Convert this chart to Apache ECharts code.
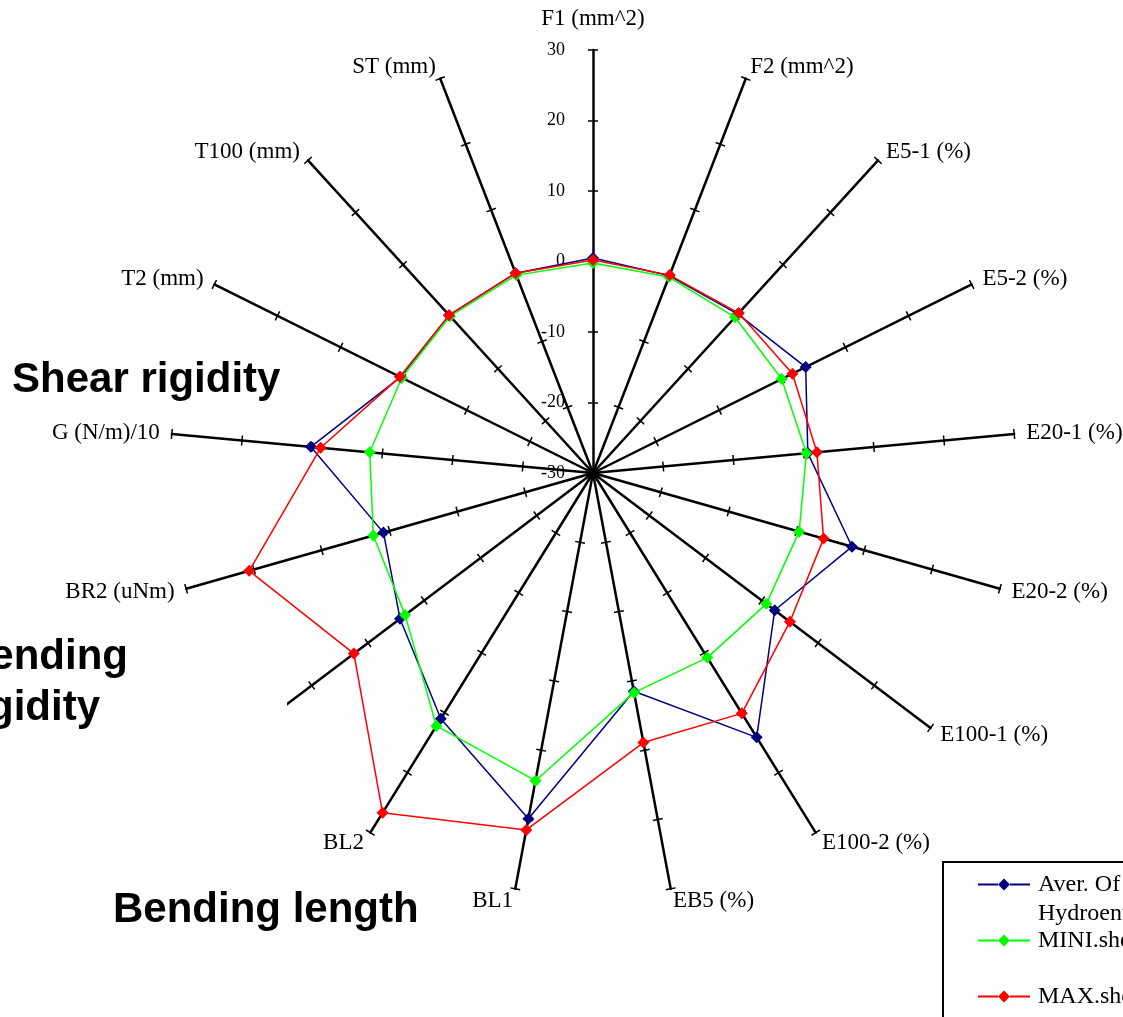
<!DOCTYPE html>
<html>
<head>
<meta charset="utf-8">
<script src="https://cdn.jsdelivr.net/npm/echarts@6/dist/echarts.min.js"></script>
<style>html,body{margin:0;padding:0;background:#fff}#c{width:1123px;height:1017px}</style>
</head>
<body>
<div id="c"></div>
<script>
// Axes listed clockwise from the top
const categories = ['F1 (mm^2)', 'F2 (mm^2)', 'E5-1 (%)', 'E5-2 (%)', 'E20-1 (%)', 'E20-2 (%)',
  'E100-1 (%)', 'E100-2 (%)', 'EB5 (%)', 'BL1', 'BL2', 'BR1 (uNm)', 'BR2 (uNm)', 'G (N/m)/10',
  'T2 (mm)', 'T100 (mm)', 'ST (mm)'];
const axisMin = -30;
const axisMax = 30;
const seriesNames = ['Aver. Of all', 'Hydroentangled\nMINI.sheet\n\u00a0', 'MAX.sheet'];
const averValues = [0.5, 0.0, 0.5, 3.7, 0.6, 8.2, 2.3, 14.1, 1.5, 19.9, 11.0, 4.3, 0.9, 10.2, 0.5, 0.3, 0.4];
const miniValues = [-0.2, -0.2, -0.1, -0.1, 0.4, 0.4, 0.8, 0.8, 1.7, 14.4, 12.2, 3.4, 2.4, 1.8, 0.3, 0.1, 0.1];
const maxValues = [0.2, 0.1, 0.7, 1.6, 1.9, 4.0, 5.0, 10.1, 8.9, 21.5, 26.7, 12.5, 20.7, 8.8, 0.6, 0.3, 0.4];
const seriesColors = ['#000080', '#00ff00', '#ff0000'];

// ECharts radar goes counter-clockwise: reorder so the picture reads clockwise
const order = [0];
for (let i = categories.length - 1; i >= 1; i--) order.push(i);
const reorder = arr => order.map(i => arr[i]);

const serif = '"Liberation Serif", "Times New Roman", serif';
const indicators = order.map(i => {
  const ind = { name: categories[i], min: axisMin, max: axisMax };
  if (i === 0) {
    ind.nameGap = 20;
    ind.axisLabel = { show: true, color: '#000', fontSize: 18, fontFamily: serif, margin: 28 };
  }
  return ind;
});
const indicatorsPlain = order.map(i => ({ name: '', min: axisMin, max: axisMax }));

const legendIcon = 'path://M0,5L20,5L20,7L0,7Z M20,6L26,0L32,6L26,12Z M32,5L52,5L52,7L32,7Z';
const allValues = [averValues, miniValues, maxValues];

const chart = echarts.init(document.getElementById('c'), null, { renderer: 'canvas' });
chart.setOption({
  animation: false,
  backgroundColor: '#fff',
  radar: [{
    center: [593, 473],
    radius: 423,
    startAngle: 90,
    splitNumber: 6,
    nameGap: 12,
    axisName: { color: '#000', fontSize: 23, fontFamily: serif },
    splitLine: { show: false },
    splitArea: { show: false },
    axisLine: { lineStyle: { color: '#000', width: 2.5 } },
    axisTick: { show: true, length: 5, lineStyle: { color: '#000', width: 1.5 } },
    axisLabel: { show: false },
    indicator: indicators
  }, {
    center: [593, 473],
    radius: 423,
    startAngle: 90,
    splitNumber: 6,
    axisName: { show: false },
    splitLine: { show: false },
    splitArea: { show: false },
    axisLine: { show: false },
    axisTick: { show: true, length: -5, lineStyle: { color: '#000', width: 1.5 } },
    axisLabel: { show: false },
    indicator: indicatorsPlain
  }],
  legend: {
    orient: 'vertical',
    left: 943,
    top: 862,
    height: 400,
    padding: [9, 10, 40, 35],
    itemGap: 2,
    itemWidth: 52,
    itemHeight: 12,
    borderColor: '#000',
    borderWidth: 2,
    backgroundColor: '#fff',
    textStyle: { color: '#000', fontSize: 24, fontFamily: serif, lineHeight: 27, padding: [0, 0, 0, 3] },
    data: seriesNames.map(n => ({ name: n, icon: legendIcon }))
  },
  series: seriesNames.map((n, k) => ({
    type: 'radar',
    radarIndex: 0,
    name: n,
    symbol: 'diamond',
    symbolSize: 12,
    z: 2 + k,
    lineStyle: { color: seriesColors[k], width: 1.5 },
    itemStyle: { color: seriesColors[k] },
    data: [{ name: n, value: reorder(allValues[k]) }]
  })),
  graphic: [
    { type: 'rect', z: 100, shape: { x: -60, y: 603, width: 347, height: 143 }, style: { fill: '#fff' } },
    { type: 'text', z: 101, x: 12, y: 380, style: { text: 'Shear rigidity', fill: '#000', font: 'bold 42px "Liberation Sans", Arial, sans-serif', verticalAlign: 'middle' } },
    { type: 'text', z: 101, x: -40, y: 657, style: { text: 'Bending', fill: '#000', font: 'bold 42px "Liberation Sans", Arial, sans-serif', verticalAlign: 'middle' } },
    { type: 'text', z: 101, x: -40, y: 708, style: { text: 'rigidity', fill: '#000', font: 'bold 42px "Liberation Sans", Arial, sans-serif', verticalAlign: 'middle' } },
    { type: 'text', z: 101, x: 113, y: 910, style: { text: 'Bending length', fill: '#000', font: 'bold 42px "Liberation Sans", Arial, sans-serif', verticalAlign: 'middle' } }
  ]
});
</script>
</body>
</html>
